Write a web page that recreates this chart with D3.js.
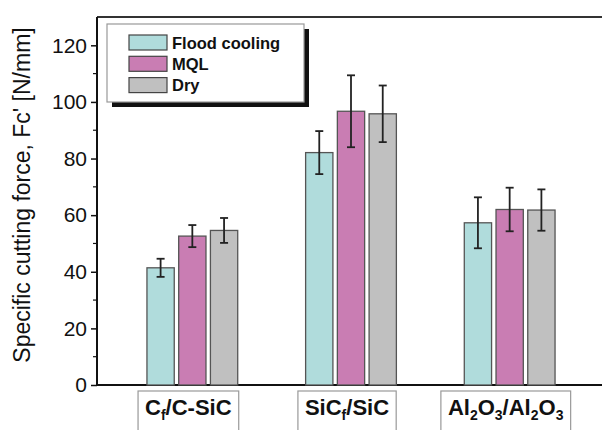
<!DOCTYPE html>
<html>
<head>
<meta charset="utf-8">
<script src="https://cdn.jsdelivr.net/npm/d3@7"></script>
<style>
  body { margin: 0; background: #fff; }
  svg { font-family: "Liberation Sans", Arial, sans-serif; }
</style>
</head>
<body>
<svg width="602" height="430"></svg>
<script>
// data
const categories = ["Cf/C-SiC", "SiCf/SiC", "Al2O3/Al2O3"];
const series = ["Flood cooling", "MQL", "Dry"];
const colors = ["#b0dcdc", "#c97db3", "#c0c0c0"];
const means = [
  [41.4, 52.6, 54.6],
  [82.1, 96.7, 95.8],
  [57.3, 62.0, 61.8]
];
const errors = [
  [3.2, 3.9, 4.4],
  [7.6, 12.7, 10.0],
  [9.0, 7.7, 7.3]
];
const yTicks = [0, 20, 40, 60, 80, 100, 120];
// label pieces: [text, isSubscript]
const labelParts = [
  [["C", 0], ["f", 1], ["/C-SiC", 0]],
  [["SiC", 0], ["f", 1], ["/SiC", 0]],
  [["Al", 0], ["2", 1], ["O", 0], ["3", 1], ["/Al", 0], ["2", 1], ["O", 0], ["3", 1]]
];

const svg = d3.select("svg");
const width = +svg.attr("width");
const plotLeft = 97, plotTop = 17, plotBottom = 385;

const y = d3.scaleLinear().domain([0, 130]).range([plotBottom, plotTop]);
const x0 = d3.scaleBand().domain(categories).range([113, 589])
  .paddingInner(0.428).paddingOuter(0.214);
const x1 = d3.scaleBand().domain(series).range([0, x0.bandwidth()]).paddingInner(0.14);

// frame: top line, bottom line
svg.append("line").attr("x1", plotLeft).attr("x2", width).attr("y1", plotTop).attr("y2", plotTop)
  .attr("stroke", "#333").attr("stroke-width", 2);
svg.append("line").attr("x1", width).attr("x2", plotLeft).attr("y1", plotBottom).attr("y2", plotBottom)
  .attr("stroke", "#111").attr("stroke-width", 2);

const yAxis = svg.append("g")
  .attr("transform", `translate(${plotLeft},0)`)
  .call(d3.axisLeft(y).tickValues(yTicks).tickSize(6).tickPadding(4).tickSizeOuter(0));
yAxis.select(".domain").attr("stroke", "#111").attr("stroke-width", 2)
  .attr("d", `M0,${plotTop}V${plotBottom}`);
yAxis.selectAll(".tick line").attr("stroke", "#111").attr("stroke-width", 1.5);
yAxis.selectAll(".tick text").attr("font-size", 21).attr("fill", "#111")
  .attr("font-family", "Liberation Sans, Arial, sans-serif");
// minor ticks
svg.append("g").selectAll("line")
  .data(d3.range(10, 130, 20))
  .join("line")
  .attr("x1", plotLeft - 4).attr("x2", plotLeft)
  .attr("y1", d => y(d)).attr("y2", d => y(d))
  .attr("stroke", "#111").attr("stroke-width", 1.2);

svg.append("text")
  .attr("transform", `translate(30,195) rotate(-90)`)
  .attr("text-anchor", "middle")
  .attr("font-size", 23)
  .attr("fill", "#111")
  .text("Specific cutting force, Fc' [N/mm]");

// bars
const groups = svg.append("g").selectAll("g")
  .data(categories)
  .join("g")
  .attr("transform", d => `translate(${x0(d)},0)`);

groups.selectAll("rect")
  .data((d, i) => series.map((s, j) => ({ s, j, v: means[i][j] })))
  .join("rect")
  .attr("x", d => x1(d.s))
  .attr("y", d => y(d.v))
  .attr("width", x1.bandwidth())
  .attr("height", d => y(0) - y(d.v))
  .attr("fill", d => colors[d.j])
  .attr("stroke", "#555")
  .attr("stroke-width", 1.3);

const errs = groups.selectAll("g.err")
  .data((d, i) => series.map((s, j) => ({ s, v: means[i][j], e: errors[i][j] })))
  .join("g")
  .attr("class", "err")
  .attr("stroke", "#222")
  .attr("stroke-width", 1.8);
const capW = 4;
const cxOf = d => x1(d.s) + x1.bandwidth() / 2;
errs.append("line")
  .attr("x1", cxOf).attr("x2", cxOf)
  .attr("y1", d => y(d.v + d.e)).attr("y2", d => y(d.v - d.e));
errs.append("line")
  .attr("x1", d => cxOf(d) - capW).attr("x2", d => cxOf(d) + capW)
  .attr("y1", d => y(d.v + d.e)).attr("y2", d => y(d.v + d.e));
errs.append("line")
  .attr("x1", d => cxOf(d) - capW).attr("x2", d => cxOf(d) + capW)
  .attr("y1", d => y(d.v - d.e)).attr("y2", d => y(d.v - d.e));

// category labels in boxes
categories.forEach((c, i) => {
  const cx = x0(c) + x0.bandwidth() / 2 - 4;
  const g = svg.append("g");
  const t = g.append("text")
    .attr("x", cx).attr("y", 415)
    .attr("text-anchor", "middle")
    .attr("font-size", 22)
    .attr("font-weight", "bold")
    .attr("fill", "#111");
  labelParts[i].forEach(([txt, sub]) => {
    t.append("tspan")
      .attr("font-size", sub ? 14 : 22)
      .attr("baseline-shift", sub ? "-35%" : null)
      .text(txt);
  });
  const bb = t.node().getBBox();
  g.insert("rect", "text")
    .attr("x", bb.x - 7).attr("y", 391)
    .attr("width", bb.width + 14).attr("height", 40)
    .attr("fill", "#fff").attr("stroke", "#999").attr("stroke-width", 1.2);
});

// legend
const lg = svg.append("g").attr("transform", "translate(107,24)");
lg.append("rect").attr("x", 5).attr("y", 5).attr("width", 197).attr("height", 78).attr("fill", "#111");
lg.append("rect").attr("x", 0).attr("y", 0).attr("width", 197).attr("height", 78)
  .attr("fill", "#fff").attr("stroke", "#999").attr("stroke-width", 1.2);
const items = lg.selectAll("g.item")
  .data(series)
  .join("g")
  .attr("class", "item")
  .attr("transform", (d, i) => `translate(22,${11 + i * 21.3})`);
items.append("rect")
  .attr("width", 38).attr("height", 15)
  .attr("fill", (d, i) => colors[i]).attr("stroke", "#444").attr("stroke-width", 1.2);
items.append("text")
  .attr("x", 43).attr("y", 13.5)
  .attr("font-size", 16.5).attr("font-weight", "bold").attr("fill", "#111")
  .text(d => d);
</script>
</body>
</html>
